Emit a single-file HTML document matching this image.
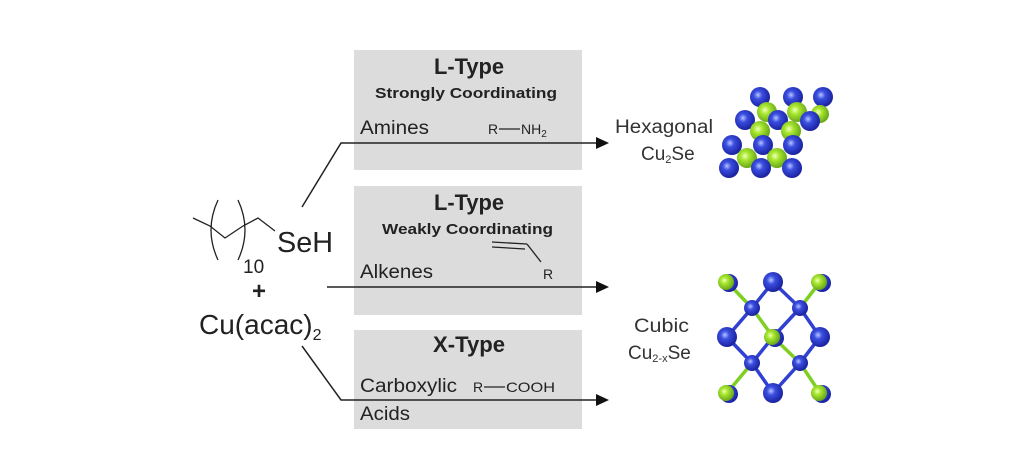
<!DOCTYPE html>
<html><head><meta charset="utf-8"><style>
html,body{margin:0;padding:0;background:#fff;}
svg{display:block;font-family:"Liberation Sans",sans-serif;}
</style></head><body>
<svg width="1033" height="470" viewBox="0 0 1033 470" xmlns="http://www.w3.org/2000/svg">
<defs>
<radialGradient id="b" cx="40%" cy="40%" r="60%"><stop offset="0" stop-color="#b8c4ff"/><stop offset="0.35" stop-color="#3a4ee0"/><stop offset="1" stop-color="#1a22a0"/></radialGradient>
<radialGradient id="g" cx="40%" cy="40%" r="60%"><stop offset="0" stop-color="#f4ffc0"/><stop offset="0.35" stop-color="#a8e830"/><stop offset="1" stop-color="#6aa818"/></radialGradient>
</defs>
<rect x="354" y="50" width="228" height="120" fill="#dcdcdc"/>
<rect x="354" y="186" width="228" height="129" fill="#dcdcdc"/>
<rect x="354" y="330" width="228" height="99" fill="#dcdcdc"/>
<g fill="#222" font-weight="bold">
<text x="434" y="74" font-size="22" textLength="70" lengthAdjust="spacingAndGlyphs">L-Type</text>
<text x="375" y="98" font-size="15" textLength="182" lengthAdjust="spacingAndGlyphs">Strongly Coordinating</text>
<text x="434" y="210" font-size="22" textLength="70" lengthAdjust="spacingAndGlyphs">L-Type</text>
<text x="382" y="234" font-size="15" textLength="171" lengthAdjust="spacingAndGlyphs">Weakly Coordinating</text>
<text x="433" y="352" font-size="22" textLength="72" lengthAdjust="spacingAndGlyphs">X-Type</text>
</g>
<g fill="#222" font-size="19">
<text x="360" y="134" textLength="69" lengthAdjust="spacingAndGlyphs">Amines</text>
<text x="360" y="278" textLength="73" lengthAdjust="spacingAndGlyphs">Alkenes</text>
<text x="360" y="392" textLength="97" lengthAdjust="spacingAndGlyphs">Carboxylic</text>
<text x="360" y="420" textLength="50" lengthAdjust="spacingAndGlyphs">Acids</text>
</g>
<g fill="#222" font-size="14">
<text x="488" y="134">R</text>
<line x1="499" y1="129" x2="520" y2="129" stroke="#222" stroke-width="1.3"/>
<text x="521" y="134">NH<tspan font-size="10" dy="3">2</tspan></text>
<text x="473" y="392">R</text>
<line x1="484" y1="387" x2="505" y2="387" stroke="#222" stroke-width="1.3"/>
<text x="506" y="392" textLength="49" lengthAdjust="spacingAndGlyphs">COOH</text>
<text x="543" y="279">R</text>
</g>
<g stroke="#222" stroke-width="1.3" fill="none">
<line x1="492" y1="242" x2="527" y2="244"/>
<line x1="492" y1="247" x2="525" y2="249"/>
<line x1="527" y1="244" x2="541" y2="262"/>
</g>
<g stroke="#222" stroke-width="1.5" fill="none">
<polyline points="302,207 341,143 598,143"/>
<line x1="327" y1="287" x2="598" y2="287"/>
<polyline points="302,346 341,400 598,400"/>
<polyline points="193,218 210,226 225,238 243,226 258,218 275,231" stroke-width="1.3"/>
<path d="M218,200 Q204,230 218,260" stroke-width="1.3"/>
<path d="M238,200 Q252,230 238,260" stroke-width="1.3"/>
</g>
<g fill="#111">
<polygon points="596,137 609,143 596,149"/>
<polygon points="596,281 609,287 596,293"/>
<polygon points="596,394 609,400 596,406"/>
</g>
<g fill="#222">
<text x="277" y="252" font-size="29" textLength="56" lengthAdjust="spacingAndGlyphs">SeH</text>
<text x="243" y="273" font-size="19">10</text>
<text x="252" y="299" font-size="24" font-weight="bold">+</text>
<text x="199" y="334" font-size="28">Cu(acac)<tspan font-size="16" dy="6">2</tspan></text>
</g>
<g fill="#333" font-size="19">
<text x="615" y="133" textLength="98" lengthAdjust="spacingAndGlyphs">Hexagonal</text>
<text x="641" y="160">Cu<tspan font-size="11" dy="3">2</tspan><tspan dy="-3">Se</tspan></text>
<text x="634" y="332" textLength="55" lengthAdjust="spacingAndGlyphs">Cubic</text>
<text x="628" y="359">Cu<tspan font-size="11" dy="3">2-x</tspan><tspan dy="-3">Se</tspan></text>
</g>
<g>
<circle cx="760" cy="97" r="10" fill="url(#b)"/><circle cx="793" cy="97" r="10" fill="url(#b)"/><circle cx="823" cy="97" r="10" fill="url(#b)"/>
<circle cx="767" cy="112" r="10" fill="url(#g)"/><circle cx="797" cy="112" r="10" fill="url(#g)"/><circle cx="820" cy="114" r="9" fill="url(#g)"/>
<circle cx="745" cy="120" r="10" fill="url(#b)"/><circle cx="778" cy="120" r="10" fill="url(#b)"/><circle cx="810" cy="121" r="10" fill="url(#b)"/>
<circle cx="760" cy="131" r="10" fill="url(#g)"/><circle cx="791" cy="131" r="10" fill="url(#g)"/>
<circle cx="732" cy="145" r="10" fill="url(#b)"/><circle cx="763" cy="145" r="10" fill="url(#b)"/><circle cx="793" cy="145" r="10" fill="url(#b)"/>
<circle cx="747" cy="158" r="10" fill="url(#g)"/><circle cx="777" cy="158" r="10" fill="url(#g)"/>
<circle cx="729" cy="168" r="10" fill="url(#b)"/><circle cx="761" cy="168" r="10" fill="url(#b)"/><circle cx="792" cy="168" r="10" fill="url(#b)"/>
</g>
<g stroke-width="3.5">
<g stroke="#7ed020">
<line x1="727" y1="282" x2="752" y2="308"/><line x1="820" y1="282" x2="800" y2="308"/>
<line x1="727" y1="393" x2="752" y2="363"/><line x1="820" y1="393" x2="800" y2="363"/>
<line x1="773" y1="337" x2="752" y2="308"/><line x1="773" y1="337" x2="800" y2="363"/>
</g>
<g stroke="#3040d0">
<line x1="773" y1="282" x2="752" y2="308"/><line x1="773" y1="282" x2="800" y2="308"/>
<line x1="727" y1="337" x2="752" y2="308"/><line x1="727" y1="337" x2="752" y2="363"/>
<line x1="820" y1="337" x2="800" y2="308"/><line x1="820" y1="337" x2="800" y2="363"/>
<line x1="773" y1="393" x2="752" y2="363"/><line x1="773" y1="393" x2="800" y2="363"/>
<line x1="773" y1="337" x2="800" y2="308"/><line x1="773" y1="337" x2="752" y2="363"/>
</g>
</g>
<g>
<circle cx="729" cy="283" r="9" fill="url(#b)"/><circle cx="726" cy="282" r="8" fill="url(#g)"/>
<circle cx="822" cy="283" r="9" fill="url(#b)"/><circle cx="819" cy="282" r="8" fill="url(#g)"/>
<circle cx="729" cy="394" r="9" fill="url(#b)"/><circle cx="726" cy="393" r="8" fill="url(#g)"/>
<circle cx="822" cy="394" r="9" fill="url(#b)"/><circle cx="819" cy="393" r="8" fill="url(#g)"/>
<circle cx="773" cy="282" r="10" fill="url(#b)"/><circle cx="727" cy="337" r="10" fill="url(#b)"/>
<circle cx="820" cy="337" r="10" fill="url(#b)"/><circle cx="773" cy="393" r="10" fill="url(#b)"/>
<circle cx="775" cy="338" r="9" fill="url(#b)"/><circle cx="772" cy="337" r="8" fill="url(#g)"/>
<circle cx="752" cy="308" r="8" fill="url(#b)"/><circle cx="800" cy="308" r="8" fill="url(#b)"/>
<circle cx="752" cy="363" r="8" fill="url(#b)"/><circle cx="800" cy="363" r="8" fill="url(#b)"/>
</g>
</svg>
</body></html>
